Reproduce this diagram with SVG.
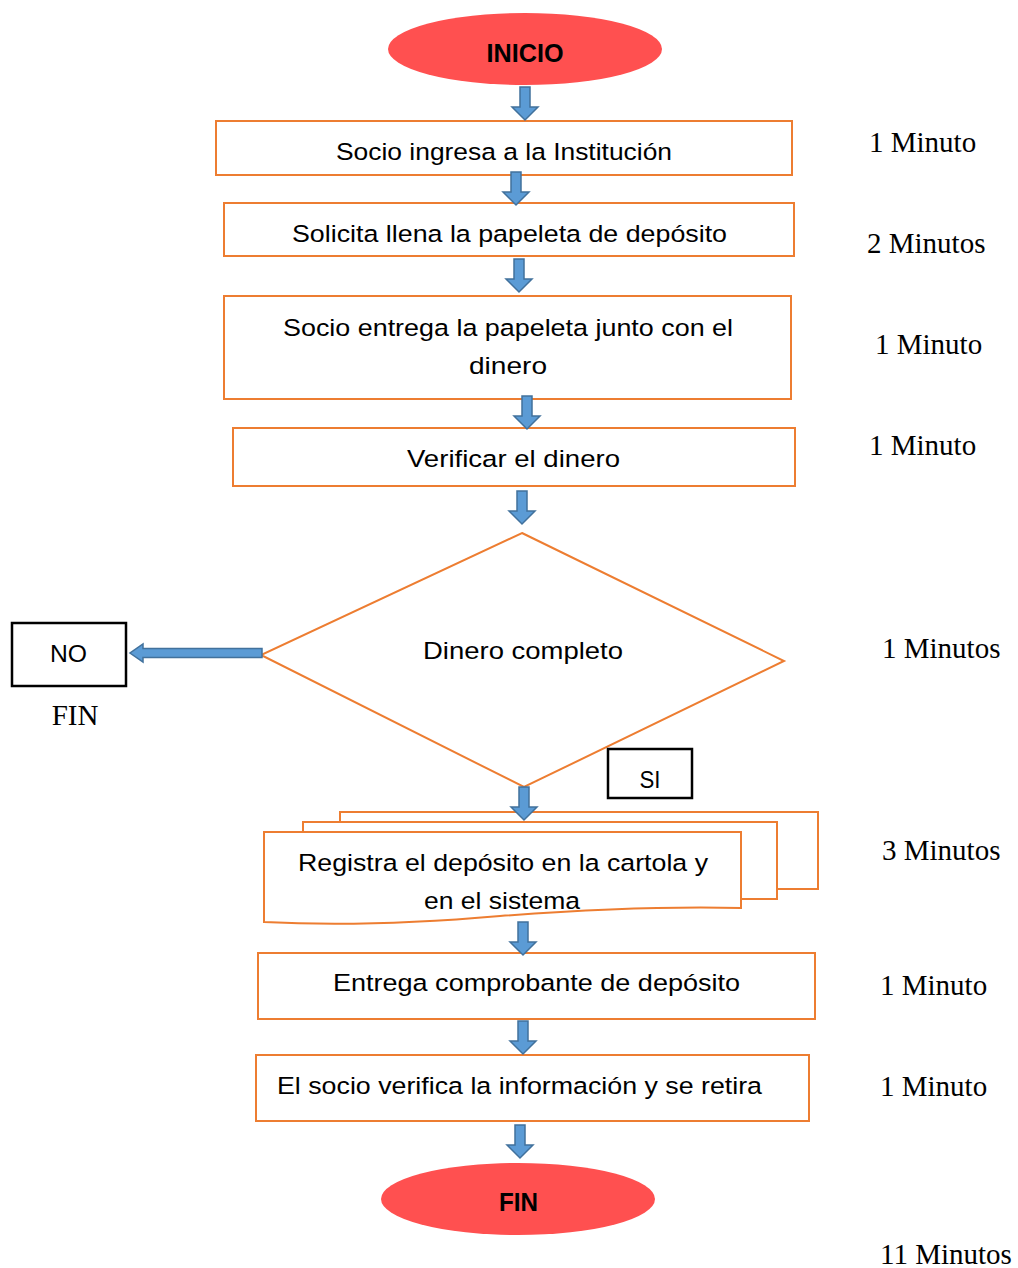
<svg xmlns="http://www.w3.org/2000/svg" xmlns:xlink="http://www.w3.org/1999/xlink" width="1018" height="1268" viewBox="0 0 1018 1268">
<style>
.box{fill:#fff;stroke:#ED7D31;stroke-width:2}
.term{fill:#FF5050;stroke:none}
.lbl{font-family:"Liberation Sans",Arial,sans-serif;font-size:24.5px;fill:#000;text-anchor:middle}
.bold{font-weight:bold;font-size:25px}
.time{font-family:"Liberation Serif","Times New Roman",serif;font-size:29px;fill:#000}
.blk{fill:#fff;stroke:#000;stroke-width:2.5}
.arr{fill:#5B9BD5;stroke:#41719C;stroke-width:1.5}
</style>
<defs>
<path id="dn" class="arr" d="M-5,0 H5 V20 H13 L0,33 L-13,20 H-5 Z"/>
</defs>
<g id="inicio">
<ellipse class="term" cx="525" cy="49" rx="137" ry="36"/>
<text class="lbl bold" x="525" y="62" textLength="77" lengthAdjust="spacingAndGlyphs">INICIO</text>
</g>
<g id="n1">
<rect class="box" x="216" y="121" width="576" height="54"/>
<text class="lbl" x="504" y="160" textLength="336" lengthAdjust="spacingAndGlyphs">Socio ingresa a la Institución</text>
</g>
<g id="n2">
<rect class="box" x="224" y="203" width="570" height="53"/>
<text class="lbl" x="509.5" y="242" textLength="435" lengthAdjust="spacingAndGlyphs">Solicita llena la papeleta de depósito</text>
</g>
<g id="n3">
<rect class="box" x="224" y="296" width="567" height="103"/>
<text class="lbl" x="508" y="336" textLength="450" lengthAdjust="spacingAndGlyphs">Socio entrega la papeleta junto con el</text>
<text class="lbl" x="508" y="374" textLength="78" lengthAdjust="spacingAndGlyphs">dinero</text>
</g>
<g id="n4">
<rect class="box" x="233" y="428" width="562" height="58"/>
<text class="lbl" x="513.5" y="467" textLength="213" lengthAdjust="spacingAndGlyphs">Verificar el dinero</text>
</g>
<g id="decision">
<path class="box" d="M522,533 L784,661 L524,787 L261,655 Z"/>
<text class="lbl" x="523" y="659" textLength="200" lengthAdjust="spacingAndGlyphs">Dinero completo</text>
</g>
<g id="no">
<rect class="blk" x="12" y="623" width="114" height="63"/>
<text class="lbl" x="68.5" y="662" textLength="37" lengthAdjust="spacingAndGlyphs">NO</text>
<text class="time" x="75" y="725" text-anchor="middle">FIN</text>
</g>
<g id="si">
<rect class="blk" x="608" y="749" width="84" height="49"/>
<text class="lbl" x="650" y="788" textLength="21" lengthAdjust="spacingAndGlyphs">SI</text>
</g>
<g id="n5">
<rect class="box" x="340" y="812" width="478" height="77"/>
<rect class="box" x="303" y="822" width="474" height="77"/>
<path class="box" d="M264,832 H741 V908 C660,906 580,910 500,916 C420,923 340,926 264,922 Z"/>
<text class="lbl" x="503" y="871" textLength="410" lengthAdjust="spacingAndGlyphs">Registra el depósito en la cartola y</text>
<text class="lbl" x="502" y="909" textLength="156" lengthAdjust="spacingAndGlyphs">en el sistema</text>
</g>
<g id="n6">
<rect class="box" x="258" y="953" width="557" height="66"/>
<text class="lbl" x="536.5" y="991" textLength="407" lengthAdjust="spacingAndGlyphs">Entrega comprobante de depósito</text>
</g>
<g id="n7">
<rect class="box" x="256" y="1055" width="553" height="66"/>
<text class="lbl" x="519.5" y="1094" textLength="485" lengthAdjust="spacingAndGlyphs">El socio verifica la información y se retira</text>
</g>
<g id="fin">
<ellipse class="term" cx="518" cy="1199" rx="137" ry="36"/>
<text class="lbl bold" x="518.5" y="1211" textLength="39" lengthAdjust="spacingAndGlyphs">FIN</text>
</g>
<g id="times">
<text class="time" x="869" y="152">1 Minuto</text>
<text class="time" x="867" y="253">2 Minutos</text>
<text class="time" x="875" y="354">1 Minuto</text>
<text class="time" x="869" y="455">1 Minuto</text>
<text class="time" x="882" y="658">1 Minutos</text>
<text class="time" x="882" y="860">3 Minutos</text>
<text class="time" x="880" y="995">1 Minuto</text>
<text class="time" x="880" y="1096">1 Minuto</text>
<text class="time" x="880" y="1264">11 Minutos</text>
</g>
<g id="connectors">
<use xlink:href="#dn" x="525" y="87"/>
<use xlink:href="#dn" x="516" y="172"/>
<use xlink:href="#dn" x="519" y="259"/>
<use xlink:href="#dn" x="527" y="396"/>
<use xlink:href="#dn" x="522" y="491"/>
<path class="arr" d="M262,648.5 V657.5 H143 V662 L130,653 L143,644 V648.5 Z"/>
<use xlink:href="#dn" x="524" y="787"/>
<use xlink:href="#dn" x="523" y="922"/>
<use xlink:href="#dn" x="523" y="1021"/>
<use xlink:href="#dn" x="520" y="1125"/>
</g>
</svg>
